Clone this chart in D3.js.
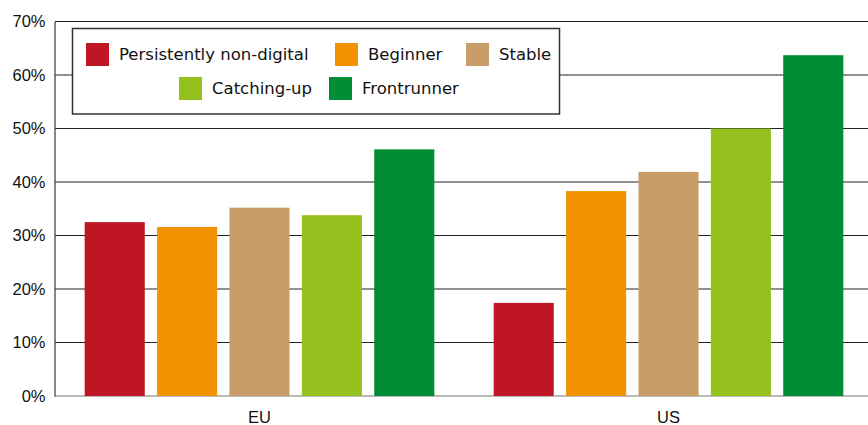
<!DOCTYPE html>
<html>
<head>
<meta charset="utf-8">
<script src="https://cdn.jsdelivr.net/npm/d3@7"></script>
<style>
  body { margin: 0; background: #fff; }
  svg { display: block; font-family: "DejaVu Sans", sans-serif; }
  .tick text { font-size: 16.5px; fill: #111; }
</style>
</head>
<body>
<svg id="chart" width="868" height="425"></svg>
<script>
// data
var regions = ["EU", "US"];
var groups = ["Persistently non-digital", "Beginner", "Stable", "Catching-up", "Frontrunner"];
var colors = ["#BE1622", "#F39200", "#C89D67", "#95C11F", "#008D36"];
var euValues = [32.5, 31.6, 35.2, 33.8, 46.1];
var usValues = [17.4, 38.3, 41.9, 50.0, 63.7];
var yTicks = [0, 10, 20, 30, 40, 50, 60, 70];

var svg = d3.select("#chart");

var rows = regions.map(function(r, i) {
    var vals = i === 0 ? euValues : usValues;
    return { region: r, values: groups.map(function(g, j) { return { key: g, value: vals[j] }; }) };
});

// scales
var x0 = d3.scaleBand().domain(regions).range([55, 873]);
var x1 = d3.scaleBand().domain(groups).range([0, x0.bandwidth()])
    .paddingInner(0.17).paddingOuter(0.41);
var y = d3.scaleLinear().domain([0, 70]).range([396, 21.5]);
var z = d3.scaleOrdinal().domain(groups).range(colors);

// gridlines
svg.append("g")
    .selectAll("line")
    .data(yTicks)
    .enter().append("line")
    .attr("x1", 55).attr("x2", 868)
    .attr("y1", function(d) { return y(d); })
    .attr("y2", function(d) { return y(d); })
    .attr("stroke", function(d) { return d === 0 ? "#777" : "#222"; })
    .attr("stroke-width", 1.1);

// bars
var group = svg.selectAll(".group")
    .data(rows)
    .enter().append("g")
    .attr("class", "group")
    .attr("transform", function(d) { return "translate(" + x0(d.region) + ",0)"; });

group.selectAll("rect")
    .data(function(d) { return d.values; })
    .enter().append("rect")
    .attr("x", function(d) { return x1(d.key); })
    .attr("width", x1.bandwidth())
    .attr("y", function(d) { return y(d.value); })
    .attr("height", function(d) { return y(0) - y(d.value); })
    .attr("fill", function(d) { return z(d.key); });

// y axis
var yAxis = svg.append("g")
    .attr("transform", "translate(54.5,0)")
    .call(d3.axisLeft(y).tickValues(yTicks).tickSize(0).tickPadding(9)
        .tickFormat(function(d) { return d + "%"; }));
yAxis.select(".domain").attr("stroke", "#444").attr("stroke-width", 1.3);

// x axis labels
var xAxis = svg.append("g")
    .attr("transform", "translate(0,396)")
    .call(d3.axisBottom(x0).tickSize(0).tickPadding(15));
xAxis.select(".domain").remove();

// legend
var legend = svg.append("g");
legend.append("rect")
    .attr("x", 72.5).attr("y", 28.5)
    .attr("width", 487).attr("height", 85.5)
    .attr("fill", "#fff").attr("stroke", "#333").attr("stroke-width", 1.5);

var legendPos = [[86, 43], [335, 43], [466, 43], [179, 77], [329, 77]];
var item = legend.selectAll(".item")
    .data(groups)
    .enter().append("g")
    .attr("class", "item")
    .attr("transform", function(d, i) { return "translate(" + legendPos[i][0] + "," + legendPos[i][1] + ")"; });
item.append("rect")
    .attr("width", 23).attr("height", 23)
    .attr("fill", function(d) { return z(d); });
item.append("text")
    .attr("x", 33).attr("y", 11.5)
    .attr("dy", "0.35em")
    .attr("font-size", 16.5)
    .attr("fill", "#111")
    .text(function(d) { return d; });
</script>
</body>
</html>
